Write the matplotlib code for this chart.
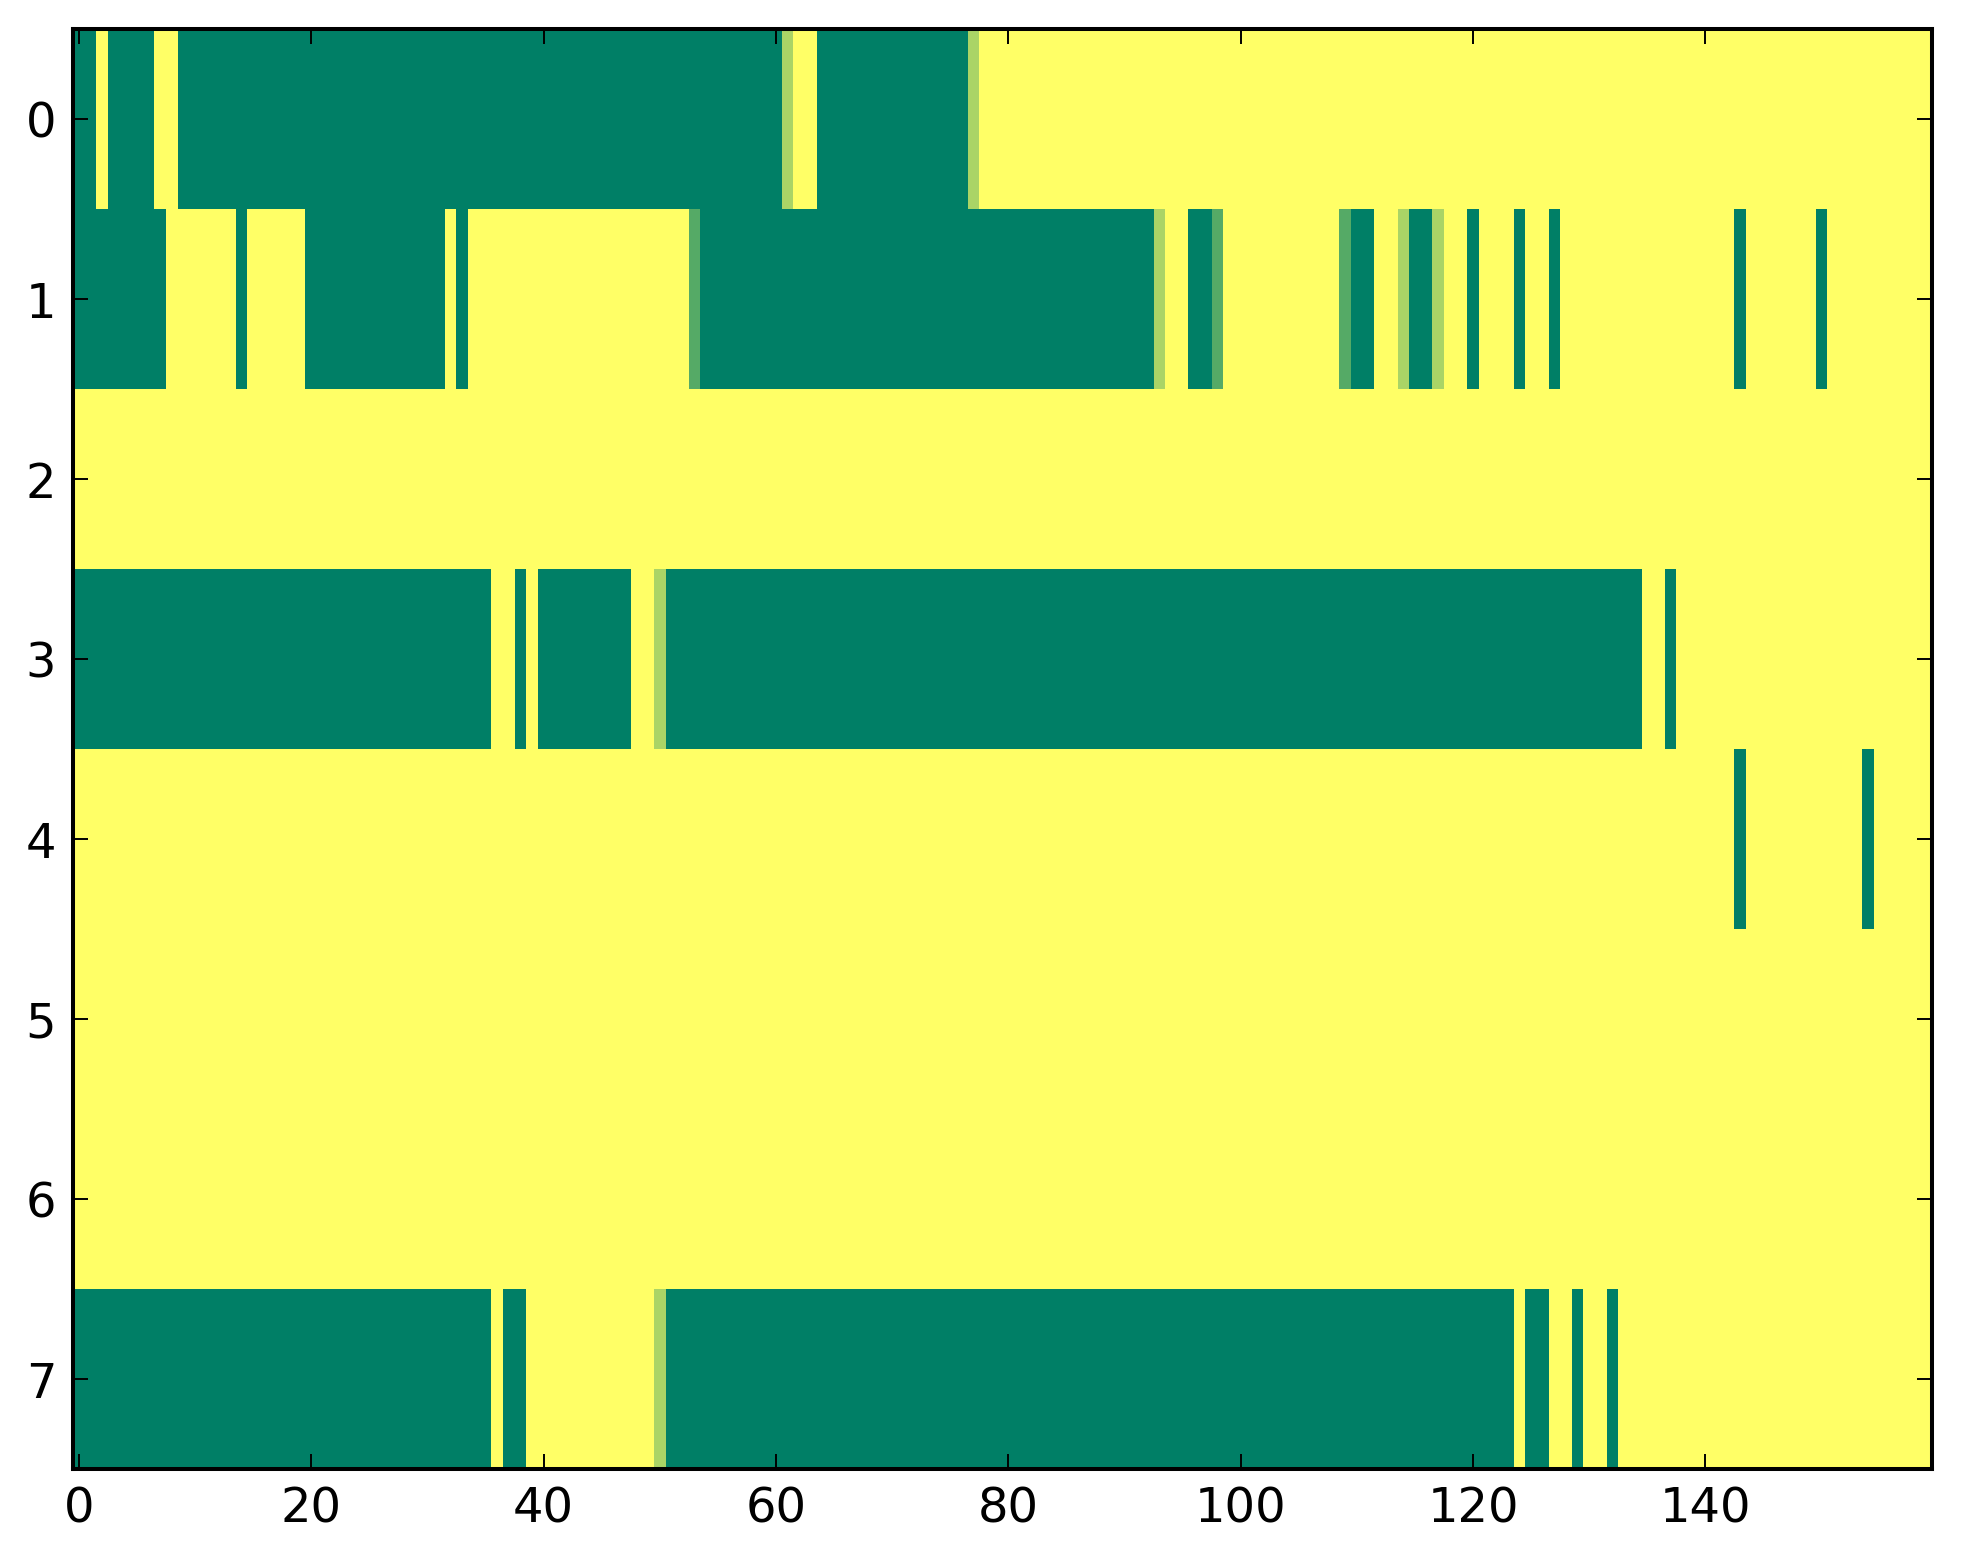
import numpy as np
import matplotlib
matplotlib.use('Agg')
import matplotlib.pyplot as plt

# -------------------------------
# Data: 8 rows x 160 columns, stored as (value, run length) pairs
# 0 = green, 1 = yellow, in-between = mixed cells
# -------------------------------
LO = 1 / 3
HI = 2 / 3

row0 = [(0, 2), (1, 1), (0, 4), (1, 2), (0, 52), (HI, 1), (1, 2), (0, 13), (HI, 1), (1, 82)]
row1 = [(0, 8), (1, 6), (0, 1), (1, 5), (0, 12), (1, 1), (0, 1), (1, 19), (LO, 1), (0, 39),
        (HI, 1), (1, 2), (0, 2), (LO, 1), (1, 10), (LO, 1), (0, 2), (1, 2), (HI, 1), (0, 2),
        (HI, 1), (1, 2), (0, 1), (1, 3), (0, 1), (1, 2), (0, 1), (1, 15), (0, 1), (1, 6),
        (0, 1), (1, 9)]
row2 = [(1, 160)]
row3 = [(0, 36), (1, 2), (0, 1), (1, 1), (0, 8), (1, 2), (HI, 1), (0, 84), (1, 2), (0, 1), (1, 22)]
row4 = [(1, 143), (0, 1), (1, 10), (0, 1), (1, 5)]
row5 = [(1, 160)]
row6 = [(1, 160)]
row7 = [(0, 36), (1, 1), (0, 2), (1, 11), (HI, 1), (0, 73), (1, 1), (0, 2), (1, 2), (0, 1),
        (1, 2), (0, 1), (1, 27)]

rows = [row0, row1, row2, row3, row4, row5, row6, row7]

x_ticks = [0, 20, 40, 60, 80, 100, 120, 140]
y_ticks = [0, 1, 2, 3, 4, 5, 6, 7]


def expand(runs):
    vals = [v for v, n in runs]
    counts = [n for v, n in runs]
    return np.repeat(vals, counts)


grid = np.vstack([expand(r) for r in rows])

# -------------------------------
# Plot
# -------------------------------
dpi = 200
fig = plt.figure(figsize=(1963 / dpi, 1564 / dpi), dpi=dpi)
ax = fig.add_axes([73 / 1963, 1 - 1469 / 1564, 1859 / 1963, 1440 / 1564])

ax.imshow(grid, cmap='summer', vmin=0, vmax=1, aspect='auto', interpolation='nearest')

ax.set_xticks(x_ticks)
ax.set_yticks(y_ticks)
ax.tick_params(direction='in', top=True, right=True, length=5.4, width=0.7,
               labelsize=17.3, pad=6)
for s in ax.spines.values():
    s.set_linewidth(1.45)

fig.savefig('out.png', dpi=dpi)
